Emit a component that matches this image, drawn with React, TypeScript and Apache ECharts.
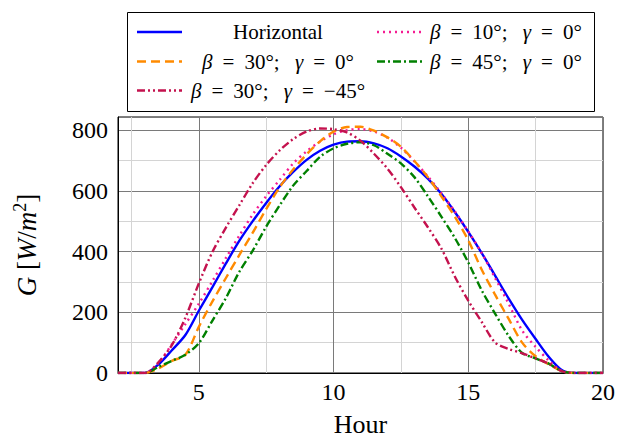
import React, { useEffect, useRef } from "react";
import * as echarts from "echarts";

// ---- data ----
const hours = [2, 2.5, 3, 3.5, 4, 4.5, 5, 5.5, 6, 6.5, 7, 7.5, 8, 8.5, 9, 9.5, 10, 10.5, 11, 11.5, 12, 12.5, 13, 13.5, 14, 14.5, 15, 15.5, 16, 16.5, 17, 17.5, 18, 18.5, 19, 19.5, 20];
const horizontal = [0, 0, 0, 28, 75, 125, 205, 282, 360, 435, 500, 560, 615, 662, 702, 732, 752, 762, 763, 756, 740, 713, 680, 640, 590, 530, 465, 395, 320, 245, 175, 112, 52, 8, 0, 0, 0];
const beta10 = [0, 0, 0, 33, 95, 161, 228, 302, 378, 452, 522, 582, 636, 690, 730, 762, 786, 800, 803, 795, 775, 742, 697, 647, 592, 532, 466, 395, 312, 228, 140, 86, 40, 5, 0, 0, 0];
const beta30 = [0, 0, 0, 15, 40, 60, 152, 235, 312, 388, 462, 540, 612, 670, 720, 763, 795, 810, 811, 798, 776, 745, 698, 645, 582, 515, 437, 340, 257, 178, 100, 55, 28, 5, 0, 0, 0];
const beta45 = [0, 0, 0, 20, 40, 60, 98, 172, 246, 333, 403, 482, 552, 617, 665, 712, 740, 755, 760, 750, 722, 690, 645, 582, 515, 445, 364, 272, 195, 122, 66, 48, 30, 5, 0, 0, 0];
const beta30g45 = [0, 0, 0, 35, 92, 182, 295, 398, 478, 552, 625, 685, 733, 770, 795, 805, 803, 792, 765, 722, 673, 612, 545, 480, 410, 318, 238, 168, 100, 79, 65, 48, 30, 5, 0, 0, 0];

const seriesNames = ["Horizontal", "β = 10°; γ = 0°", "β = 30°; γ = 0°", "β = 45°; γ = 0°", "β = 30°; γ = −45°"];
const legendLabels = [
  "Horizontal",
  "{m|β}{eq|=}10°;{sp| }{m|γ}{eq|=}0°",
  "{m|β}{eq|=}30°;{sp| }{m|γ}{eq|=}0°",
  "{m|β}{eq|=}45°;{sp| }{m|γ}{eq|=}0°",
  "{m|β}{eq|=}30°;{sp| }{m|γ}{eq|=}−45°",
];
const seriesValues = [horizontal, beta10, beta30, beta45, beta30g45];
const xTickStep = 5;
const yTickStep = 200;

// ---- styles ----
const FONT = "'Liberation Serif', 'DejaVu Serif', serif";
const colors = ["#0000ff", "#f41c92", "#ff8a00", "#008000", "#c4124e"];
const dashes: (number[] | "solid")[] = ["solid", [2, 4], [9, 5], [8, 3, 2, 3], [8, 3, 2, 3, 2, 3]];
// legend layout: [row, col]
const legendPos = [[0, 0], [0, 1], [1, 0], [1, 1], [2, 0]];

export default function App() {
  const ref = useRef<HTMLDivElement>(null);
  useEffect(() => {
    if (!ref.current) return;
    const chart = echarts.init(ref.current, null, { renderer: "svg" });

    const rowY = [32, 61.5, 90.5];
    const legendEls: any[] = [
      {
        type: "rect",
        shape: { x: 127.5, y: 12.5, width: 467, height: 99 },
        style: { fill: "#fff", stroke: "#000", lineWidth: 1 },
        z: 100,
      },
    ];
    const fs = 21;
    legendPos.forEach(([r, c], i) => {
      const lx = c === 0 ? 137 : 377;
      const y = rowY[r];
      const dash = dashes[i];
      legendEls.push({
        type: "line",
        shape: { x1: lx, y1: y, x2: lx + 45, y2: y },
        style: {
          stroke: colors[i],
          lineWidth: 2.4,
          lineDash: dash === "solid" ? null : dash,
        },
        z: 101,
      });
      legendEls.push({
        type: "text",
        x: c === 0 ? 278 : 430,
        y: y,
        style: {
          text: legendLabels[i],
          font: `${fs}px ${FONT}`,
          fill: "#000",
          align: c === 0 ? "center" : "left",
          verticalAlign: "middle",
          rich: {
            m: { fontFamily: FONT, fontSize: fs, fontStyle: "italic", fill: "#000" },
            eq: { fontFamily: FONT, fontSize: fs, fill: "#000", padding: [0, 10, 0, 10] },
            sp: { fontFamily: FONT, fontSize: fs, fill: "#000", padding: [0, 5, 0, 5] },
          },
        },
        z: 101,
      });
    });

    const option: any = {
      animation: false,
      grid: {
        left: 118,
        right: 15,
        top: 117,
        bottom: 68,
        show: true,
        borderColor: "#000",
        borderWidth: 1,
        backgroundColor: "transparent",
        outerBoundsMode: "none",
        containLabel: false,
      },
      xAxis: {
        type: "value",
        min: 2,
        max: 20,
        splitNumber: 4,
        name: "Hour",
        nameLocation: "middle",
        nameGap: 40,
        nameTextStyle: { fontFamily: FONT, fontSize: 26, lineHeight: 23, color: "#000" },
        axisLine: { show: true, onZero: false, lineStyle: { color: "#000", width: 1 } },
        axisTick: { show: false },
        axisLabel: {
          showMinLabel: false,
          margin: 7,
          fontFamily: FONT,
          fontSize: 24,
          color: "#000",
          formatter: (v: number) => (v % xTickStep === 0 ? String(v) : ""),
        },
        splitLine: { show: true, lineStyle: { color: "#7a7a7a", width: 1 } },
        minorTick: { show: false, splitNumber: 2 },
        minorSplitLine: { show: true, lineStyle: { color: "#d4d4d4", width: 1 } },
      },
      yAxis: {
        type: "value",
        min: 0,
        max: 843,
        interval: yTickStep,
        name: "{i|G} [{i|W}/{i|m}{s|2}]",
        nameLocation: "middle",
        nameGap: 76,
        nameTextStyle: {
          fontFamily: FONT,
          fontSize: 27,
          color: "#000",
          rich: {
            i: { fontFamily: FONT, fontSize: 27, fontStyle: "italic", color: "#000" },
            s: { fontFamily: FONT, fontSize: 18, color: "#000", padding: [0, 0, 13, 0] },
          },
        },
        axisLine: { show: true, lineStyle: { color: "#000", width: 1 } },
        axisTick: { show: false },
        axisLabel: {
          margin: 10,
          fontFamily: FONT,
          fontSize: 24,
          color: "#000",
          formatter: (v: number) => (v % yTickStep === 0 ? String(v) : ""),
        },
        splitLine: { show: true, lineStyle: { color: "#7a7a7a", width: 1 } },
        minorTick: { show: false, splitNumber: 2 },
        minorSplitLine: { show: true, lineStyle: { color: "#d4d4d4", width: 1 } },
      },
      series: seriesValues.map((vals, i) => ({
        name: seriesNames[i],
        type: "line",
        data: hours.map((h, k) => [h, vals[k]]),
        showSymbol: false,
        smooth: 0.3,
        clip: true,
        lineStyle: { color: colors[i], width: 2.4, type: dashes[i] },
        itemStyle: { color: colors[i] },
        z: 3 + i,
      })),
      graphic: legendEls,
    };
    chart.setOption(option);
    return () => chart.dispose();
  }, []);
  return <div ref={ref} style={{ position: "absolute", left: 0, top: 0, width: 618, height: 441 }} />;
}
